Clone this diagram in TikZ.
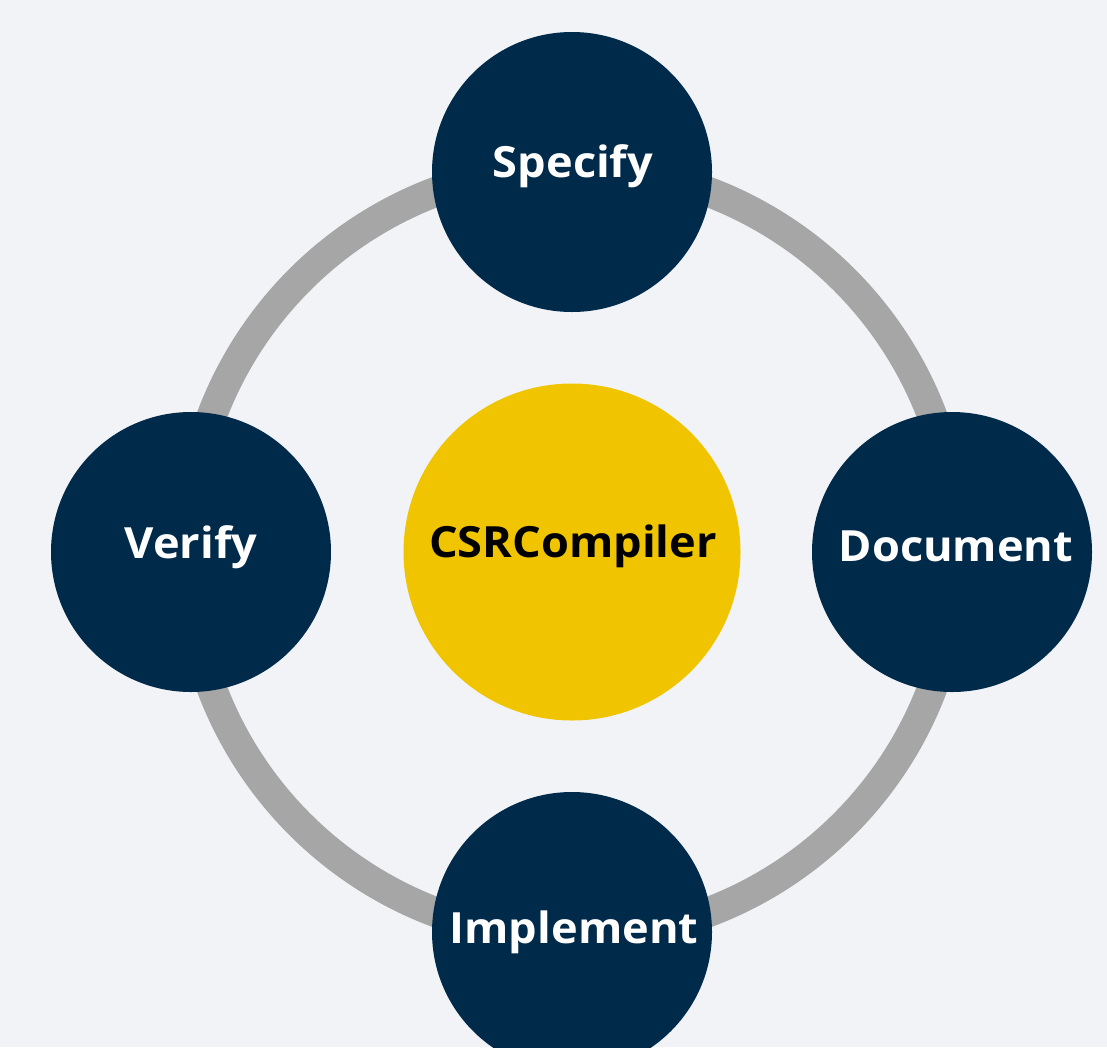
\documentclass[tikz,border=0pt]{standalone}
\usepackage{fontspec}
\setmainfont[FakeStretch=1.05]{Open Sans}
\definecolor{bgc}{HTML}{F1F3F7}
\definecolor{navy}{HTML}{002A4A}
\definecolor{gold}{HTML}{F0C500}
\definecolor{ringc}{HTML}{A6A6A6}
\tikzset{
  stage/.style={circle, fill=navy, minimum size=280pt, inner sep=0pt},
  hub/.style={circle, fill=gold, minimum size=337pt, inner sep=0pt},
  lbl/.style={font=\fontsize{43}{50}\selectfont\bfseries, text=white},
  ring/.style={draw=ringc, line width=30pt}
}
\begin{document}
\begin{tikzpicture}[x=1pt,y=-1pt]
\fill[bgc] (0,0) rectangle (1107,1047);
\useasboundingbox (0,0) rectangle (1107,1047);
\coordinate (o) at (572,552);
\draw[ring] (o) circle[radius=385];
\begin{scope}
\clip (0,0) rectangle (1107,1047);
\node[hub] (hub) at (o) {};
\node[stage] (spec) at (572,172) {};
\node[stage] (verif) at (191,552) {};
\node[stage] (doc) at (952,552) {};
\node[stage] (impl) at (572,932) {};
\end{scope}
\node[lbl, text=black] (thub) at (573,546) {CSRCompiler};
\node[lbl] (tspec) at (573,166) {Specify};
\node[lbl] (tverif) at (191,547) {Verify};
\node[lbl] (tdoc) at (956,546) {Document};
\node[lbl] (timpl) at (574,932) {Implement};
\end{tikzpicture}
\end{document}
